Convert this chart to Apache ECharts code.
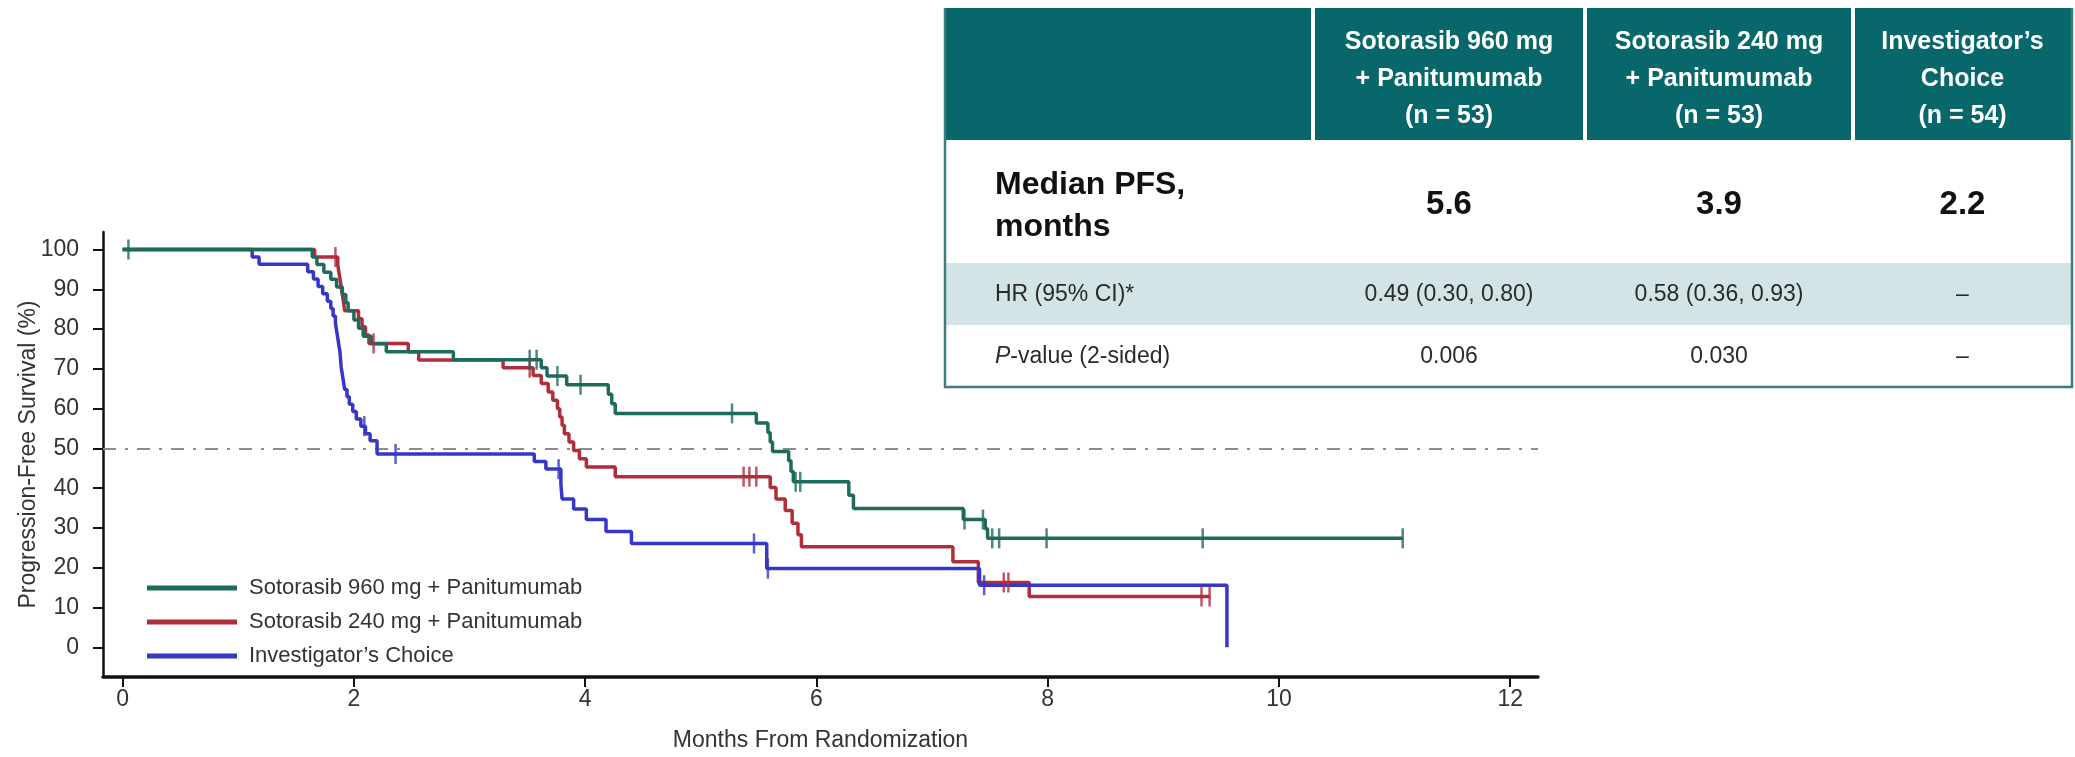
<!DOCTYPE html>
<html>
<head>
<meta charset="utf-8">
<script src="https://cdn.jsdelivr.net/npm/echarts@6/dist/echarts.min.js"></script>
<style>
  html, body { margin: 0; padding: 0; background: #ffffff; }
  #chart { width: 2075px; height: 757px; }
</style>
</head>
<body>
<div id="chart"></div>
<script>
// ---- Kaplan–Meier data (months, % progression-free) ----
const armNames = ['Sotorasib 960 mg + Panitumumab', 'Sotorasib 240 mg + Panitumumab', 'Investigator\u2019s Choice'];

const km960 = [[0,100],[1.64,98.1],[1.68,96.2],[1.74,94.3],[1.80,92.5],[1.85,90.6],[1.90,88.7],[1.93,86.6],[1.95,84.6],
  [2.00,82.3],[2.04,80.2],[2.08,78.2],[2.15,76.3],[2.28,74.3],[2.86,72.3],[3.62,70.3],[3.67,68.2],[3.84,66.0],
  [4.20,63.6],[4.23,61.2],[4.26,58.8],[5.48,56.4],[5.58,54.0],[5.60,51.6],[5.62,49.2],[5.76,46.9],[5.78,44.2],
  [5.80,41.6],[6.28,38.2],[6.32,34.9],[7.27,32.1],[7.46,29.8],[7.48,27.4],[11.07,27.4]];
const censor960 = [0.05, 3.52, 3.58, 3.76, 3.96, 5.27, 5.82, 5.86, 7.28, 7.44, 7.52, 7.58, 7.99, 9.34, 11.07];

const km240 = [[0,100],[1.66,98.1],[1.86,96.2],[1.87,94.3],[1.88,92.5],[1.89,90.6],[1.90,88.7],[1.91,86.7],[1.92,84.6],
  [2.04,82.6],[2.07,80.6],[2.10,78.5],[2.13,76.4],[2.47,74.3],[2.56,72.2],[3.29,70.3],[3.55,68.3],[3.62,66.3],
  [3.68,64.2],[3.72,62.1],[3.76,60.0],[3.78,57.9],[3.80,55.8],[3.82,53.7],[3.86,51.6],[3.90,49.5],[3.95,47.4],
  [4.01,45.3],[4.26,42.9],[5.60,40.2],[5.65,37.3],[5.73,34.4],[5.79,31.2],[5.84,28.3],[5.87,25.3],[7.18,21.5],
  [7.40,16.3],[7.84,12.8],[9.40,12.8]];
const censor240 = [1.84, 2.17, 3.52, 5.37, 5.42, 5.48, 7.62, 7.66, 9.33, 9.40];

const kmIC = [[0,100],[1.12,98.1],[1.18,96.3],[1.60,94.4],[1.65,92.6],[1.69,90.7],[1.73,88.9],[1.77,87.0],[1.80,85.2],
  [1.82,83.3],[1.84,81.5],[1.85,79.6],[1.86,77.8],[1.87,75.9],[1.88,74.1],[1.885,72.2],[1.89,70.4],[1.90,68.5],
  [1.91,66.7],[1.92,64.8],[1.94,63.0],[1.96,61.1],[1.99,59.3],[2.02,57.4],[2.06,55.6],[2.10,53.7],[2.14,51.9],
  [2.20,48.6],[3.56,46.7],[3.66,44.8],[3.79,41.0],[3.80,37.3],[3.90,34.8],[4.01,32.1],[4.18,29.1],[4.40,26.1],
  [5.57,19.8],[7.41,15.6],[9.55,0]];
const censorIC = [2.09, 2.36, 3.77, 5.46, 5.58, 7.45];

const xTicks = [0, 2, 4, 6, 8, 10, 12];
const yTicks = [0, 10, 20, 30, 40, 50, 60, 70, 80, 90, 100];
const medianLine = 50;

// ---- summary table ----
const tableHeaders = ['Sotorasib 960 mg\n+ Panitumumab\n(n = 53)', 'Sotorasib 240 mg\n+ Panitumumab\n(n = 53)', 'Investigator\u2019s\nChoice\n(n = 54)'];
const medianLabel = 'Median PFS,\nmonths';
const medianPFS = ['5.6', '3.9', '2.2'];
const hrLabel = 'HR (95% CI)*';
const hrValues = ['0.49 (0.30, 0.80)', '0.58 (0.36, 0.93)', '\u2013'];
const pValues = ['0.006', '0.030', '\u2013'];

const armColors = ['#1f6b5b', '#b22d3b', '#3636c8'];
const FONT = '"Liberation Sans", Arial, Helvetica, sans-serif';

// survival value of a step curve at time t
function survivalAt(curve, t) {
  let v = curve[0][1];
  for (const p of curve) { if (p[0] <= t) v = p[1]; else break; }
  return v;
}
const censorPoints = (curve, times) => times.map(t => [t, survivalAt(curve, t)]);

const chart = echarts.init(document.getElementById('chart'), null, { renderer: 'canvas' });

function kmLine(name, data, color, extra) {
  return Object.assign({
    name: name, type: 'line', step: 'end', data: data, symbol: 'none',
    color: color, lineStyle: { color: color, width: 3.5 }, animation: false, z: 3
  }, extra || {});
}
function censorMarks(name, pts, color) {
  return {
    name: name, type: 'scatter', data: pts, symbol: 'rect', symbolSize: [2.5, 20],
    itemStyle: { color: color }, animation: false, z: 4
  };
}

// table geometry
const T = { left: 945, right: 2072, top: 8, headBottom: 140, hrTop: 263, hrBottom: 325, bottom: 387 };
const colEdges = [945, 1313, 1585, 1853, 2072];
const colCenter = i => (colEdges[i + 1] + colEdges[i + 2]) / 2;

const graphics = [];
graphics.push({ type: 'rect', shape: { x: T.left, y: T.top, width: T.right - T.left, height: T.bottom - T.top }, style: { fill: '#ffffff' }, z: 100 });
graphics.push({ type: 'rect', shape: { x: T.left, y: T.top, width: T.right - T.left, height: T.headBottom - T.top }, style: { fill: '#08676a' }, z: 101 });
graphics.push({ type: 'rect', shape: { x: T.left, y: T.hrTop, width: T.right - T.left, height: T.hrBottom - T.hrTop }, style: { fill: '#d3e4e6' }, z: 101 });
[1, 2, 3].forEach(i => {
  graphics.push({ type: 'rect', shape: { x: colEdges[i] - 2, y: T.top, width: 4, height: T.headBottom - T.top }, style: { fill: '#ffffff' }, z: 102 });
});
graphics.push({ type: 'polyline', shape: { points: [[T.left, T.top], [T.left, T.bottom], [T.right, T.bottom], [T.right, T.top]] },
  style: { stroke: '#3f7d7d', lineWidth: 2.5, fill: null }, z: 103 });

tableHeaders.forEach((h, i) => {
  graphics.push({ type: 'text', x: colCenter(i), y: 79, z: 104,
    style: { text: h, fill: '#ffffff', fontSize: 25, fontWeight: 'bold', fontFamily: FONT, lineHeight: 37, align: 'center', verticalAlign: 'middle' } });
});
graphics.push({ type: 'text', x: 995, y: 206, z: 104,
  style: { text: medianLabel, fill: '#111111', fontSize: 32, fontWeight: 'bold', fontFamily: FONT, lineHeight: 42, align: 'left', verticalAlign: 'middle' } });
medianPFS.forEach((v, i) => {
  graphics.push({ type: 'text', x: colCenter(i), y: 205, z: 104,
    style: { text: v, fill: '#111111', fontSize: 33, fontWeight: 'bold', fontFamily: FONT, align: 'center', verticalAlign: 'middle' } });
});
graphics.push({ type: 'text', x: 995, y: 295, z: 104,
  style: { text: hrLabel, fill: '#2a2a2a', fontSize: 23, fontFamily: FONT, align: 'left', verticalAlign: 'middle' } });
hrValues.forEach((v, i) => {
  graphics.push({ type: 'text', x: colCenter(i), y: 295, z: 104,
    style: { text: v, fill: '#2a2a2a', fontSize: 23, fontFamily: FONT, align: 'center', verticalAlign: 'middle' } });
});
graphics.push({ type: 'text', x: 995, y: 357, z: 104,
  style: { text: '{i|P}-value (2-sided)', fill: '#2a2a2a', fontSize: 23, fontFamily: FONT, align: 'left', verticalAlign: 'middle',
    rich: { i: { fontStyle: 'italic', fontSize: 23, fontFamily: FONT, fill: '#2a2a2a' } } } });
pValues.forEach((v, i) => {
  graphics.push({ type: 'text', x: colCenter(i), y: 357, z: 104,
    style: { text: v, fill: '#2a2a2a', fontSize: 23, fontFamily: FONT, align: 'center', verticalAlign: 'middle' } });
});

const option = {
  backgroundColor: '#ffffff',
  animation: false,
  textStyle: { fontFamily: FONT },
  grid: { left: 103, right: 537, top: 232, bottom: 80, containLabel: false, outerBoundsMode: 'none' },
  xAxis: {
    type: 'value', min: -0.17, max: 12.24,
    name: 'Months From Randomization', nameLocation: 'middle', nameGap: 52, nameMoveOverlap: false,
    nameTextStyle: { fontSize: 23, color: '#333333', fontFamily: FONT },
    axisLine: { show: true, onZero: false, lineStyle: { color: '#111111', width: 3.5 } },
    axisTick: { show: true, length: 10, customValues: xTicks, lineStyle: { color: '#111111', width: 2 } },
    axisLabel: { customValues: xTicks, fontSize: 23, color: '#333333', margin: 11, fontFamily: FONT },
    splitLine: { show: false }
  },
  yAxis: {
    type: 'value', min: -7.46, max: 104.4,
    name: 'Progression-Free Survival (%)', nameLocation: 'middle', nameGap: 63, nameRotate: 90, nameMoveOverlap: false,
    nameTextStyle: { fontSize: 23, color: '#333333', fontFamily: FONT },
    axisLine: { show: true, onZero: false, lineStyle: { color: '#111111', width: 2.5 } },
    axisTick: { show: true, length: 10, customValues: yTicks, lineStyle: { color: '#111111', width: 2 } },
    axisLabel: { customValues: yTicks, fontSize: 23, color: '#333333', margin: 24, fontFamily: FONT },
    splitLine: { show: false }
  },
  legend: {
    data: armNames, orient: 'vertical', left: 142, top: 571,
    icon: 'rect', itemWidth: 90, itemHeight: 5, itemGap: 10,
    textStyle: { fontSize: 22, color: '#333333', lineHeight: 24, padding: [0, 0, 0, 7], fontFamily: FONT },
    selectedMode: false
  },
  series: [
    kmLine(armNames[1], km240, armColors[1], {
      markLine: {
        silent: true, symbol: 'none', label: { show: false },
        lineStyle: { color: '#8c8c8c', width: 2, type: [13, 9, 3, 9] },
        data: [{ yAxis: medianLine }], z: 1
      }
    }),
    kmLine(armNames[2], kmIC, armColors[2]),
    kmLine(armNames[0], km960, armColors[0]),
    censorMarks('censored-240', censorPoints(km240, censor240), armColors[1]),
    censorMarks('censored-ic', censorPoints(kmIC, censorIC), armColors[2]),
    censorMarks('censored-960', censorPoints(km960, censor960), armColors[0])
  ],
  graphic: { elements: graphics }
};
chart.setOption(option);
</script>
</body>
</html>
